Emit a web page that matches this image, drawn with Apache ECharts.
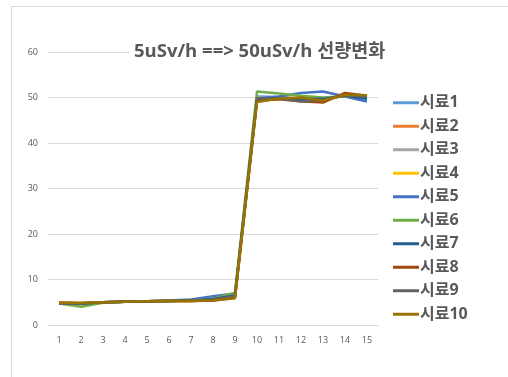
<!DOCTYPE html>
<html>
<head>
<meta charset="utf-8">
<script src="https://cdn.jsdelivr.net/npm/echarts@6/dist/echarts.min.js"></script>
<style>
  html, body { margin: 0; padding: 0; background: #fff; }
  #chart { width: 508px; height: 377px; }
</style>
</head>
<body>
<div id="chart"></div>
<script>
// Dose-rate readings per sample, measurement steps 1..15
const categories = ['1','2','3','4','5','6','7','8','9','10','11','12','13','14','15'];
const seriesNames = ['시료1','시료2','시료3','시료4','시료5','시료6','시료7','시료8','시료9','시료10'];
const s1  = [4.8, 4.7, 5.0, 5.1, 5.2, 5.3, 5.4, 5.6, 6.3, 50.2, 50.1, 49.6, 49.8, 50.3, 49.5];
const s2  = [4.9, 4.8, 5.0, 5.1, 5.2, 5.3, 5.3, 5.5, 6.2, 49.6, 49.8, 49.4, 49.2, 50.8, 50.2];
const s3  = [4.8, 4.7, 5.0, 5.1, 5.2, 5.3, 5.4, 5.6, 6.4, 50.0, 50.0, 49.8, 49.6, 50.5, 50.0];
const s4  = [4.9, 4.8, 5.0, 5.1, 5.2, 5.3, 5.3, 5.5, 6.1, 49.7, 49.9, 49.5, 49.3, 50.6, 50.3];
const s5  = [4.8, 4.6, 5.0, 5.1, 5.2, 5.4, 5.6, 6.3, 6.9, 49.8, 50.2, 51.0, 51.3, 50.2, 49.1];
const s6  = [4.7, 4.0, 4.9, 5.1, 5.2, 5.3, 5.4, 5.8, 7.1, 51.3, 50.9, 50.4, 50.0, 50.3, 50.2];
const s7  = [4.8, 4.7, 5.0, 5.1, 5.2, 5.3, 5.4, 5.7, 6.5, 49.6, 49.9, 49.6, 49.7, 50.4, 49.8];
const s8  = [4.9, 4.8, 5.0, 5.1, 5.2, 5.3, 5.3, 5.4, 6.0, 49.3, 49.6, 49.2, 48.9, 51.0, 50.4];
const s9  = [4.8, 4.7, 5.0, 5.1, 5.2, 5.3, 5.4, 5.6, 6.3, 49.8, 49.8, 49.1, 49.5, 50.5, 50.2];
const s10 = [4.9, 4.9, 5.0, 5.1, 5.2, 5.3, 5.3, 5.4, 5.9, 49.0, 49.8, 50.0, 49.3, 50.6, 50.5];
const seriesValues = [s1, s2, s3, s4, s5, s6, s7, s8, s9, s10];
const palette = ['#5B9BD5','#ED7D31','#A5A5A5','#FFC000','#4472C4','#70AD47','#255E91','#9E480E','#636363','#997300'];

const chart = echarts.init(document.getElementById('chart'), null, { renderer: 'canvas' });
const textColor = '#595959';
const fontFamily = '"Open Sans", "Noto Sans CJK KR", sans-serif';

chart.setOption({
  animation: false,
  color: palette,
  graphic: [{
    type: 'rect',
    shape: { x: 11.5, y: 6.5, width: 600, height: 500 },
    style: { fill: 'none', stroke: '#d9d9d9', lineWidth: 1 },
    z: -10
  }],
  title: {
    text: '5uSv/h ==> 50uSv/h 선량변화',
    left: 130,
    top: 41,
    padding: [1, 4],
    backgroundColor: '#fff',
    textStyle: { color: textColor, fontSize: 18.5, fontWeight: 'bold', fontFamily: fontFamily }
  },
  legend: {
    orient: 'vertical',
    left: 388,
    top: 88,
    itemWidth: 26,
    itemHeight: 3,
    itemGap: 4,
    icon: 'rect',
    data: seriesNames,
    textStyle: { color: textColor, fontSize: 16, fontWeight: 'bold', fontFamily: fontFamily, padding: [0, 0, 0, -4], lineHeight: 19.5 }
  },
  grid: { left: 48, right: 130, top: 52, bottom: 52, containLabel: false },
  xAxis: {
    type: 'category',
    data: categories,
    boundaryGap: true,
    axisLine: { show: true, lineStyle: { color: '#d9d9d9' } },
    axisTick: { show: false },
    axisLabel: { color: textColor, fontSize: 9, margin: 11, fontFamily: fontFamily }
  },
  yAxis: {
    type: 'value',
    min: 0,
    max: 60,
    interval: 10,
    axisLine: { show: false },
    axisTick: { show: false },
    axisLabel: { color: textColor, fontSize: 9, margin: 10, fontFamily: fontFamily },
    splitLine: { lineStyle: { color: '#d9d9d9', width: 1 } }
  },
  series: seriesNames.map((name, i) => ({
    name: name,
    type: 'line',
    data: seriesValues[i],
    symbol: 'none',
    lineStyle: { width: 2.5 },
    z: 2 + i
  }))
});
</script>
</body>
</html>
